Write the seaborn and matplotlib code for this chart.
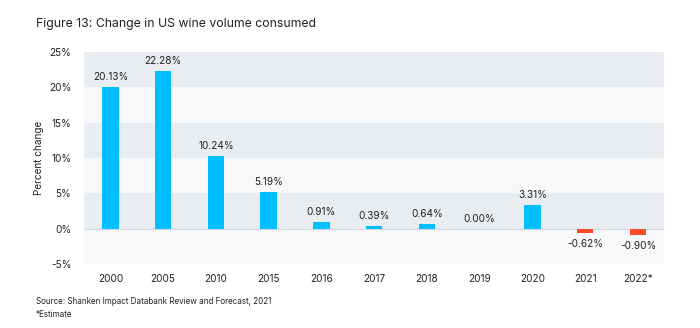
import matplotlib
matplotlib.use("Agg")
import matplotlib.pyplot as plt
import seaborn as sns
import pandas as pd
import numpy as np

years = ["2000", "2005", "2010", "2015", "2016", "2017", "2018", "2019", "2020", "2021", "2022*"]
changes = [20.13, 22.28, 10.24, 5.19, 0.91, 0.39, 0.64, 0.00, 3.31, -0.62, -0.90]
y_ticks = [-5, 0, 5, 10, 15, 20, 25]

BLUE = "#00BFFF"
RED = "#FF4B2B"
TEXT = "#222222"

sns.set_theme(style="white")
plt.rcParams["font.family"] = ["Inter", "DejaVu Sans"]

df = pd.DataFrame({"year": years, "change": changes})
df["sign"] = np.where(df["change"] < 0, "neg", "pos")

fig = plt.figure(figsize=(7, 3.28), dpi=100)
ax = fig.add_axes([0.12, 0.195, 0.829, 0.646])

# alternating horizontal bands
for i, (lo, hi) in enumerate(zip(y_ticks[:-1], y_ticks[1:])):
    color = "#F7F8FA" if i % 2 == 0 else "#E9ECF0"
    ax.axhspan(lo, hi, color=color, zorder=0, lw=0)
ax.axhline(0, color="#D5D9DF", lw=0.8, zorder=1)

sns.barplot(data=df, x="year", y="change", hue="sign",
            palette={"pos": BLUE, "neg": RED}, dodge=False,
            legend=False, width=0.31, ax=ax, zorder=2, saturation=1,
            linewidth=0, edgecolor="none")

for i, v in enumerate(changes):
    if v < 0:
        ax.text(i, v - 0.9, f"{v:.2f}%", ha="center", va="top",
                fontsize=7.2, color=TEXT)
    else:
        ax.text(i, v + 0.7, f"{v:.2f}%", ha="center", va="bottom",
                fontsize=7.2, color=TEXT)

ax.set_ylim(-5, 25)
ax.set_xlim(-0.5, len(years) - 0.5)
ax.set_yticks(y_ticks)
ax.set_yticklabels([f"{t}%" for t in y_ticks])
ax.tick_params(axis="both", length=0, labelsize=7.2, colors=TEXT)
ax.tick_params(axis="y", pad=9)
ax.tick_params(axis="x", pad=7)
ax.set_xlabel("")
ax.set_ylabel("Percent change", fontsize=7.2, color=TEXT, labelpad=4)
for s in ax.spines.values():
    s.set_visible(False)

fig.text(0.051, 0.928, "Figure 13: Change in US wine volume consumed",
         fontsize=8.8, color=TEXT, va="center", ha="left")
fig.text(0.051, 0.082, "Source: Shanken Impact Databank Review and Forecast, 2021",
         fontsize=5.8, color=TEXT, va="center", ha="left")
fig.text(0.051, 0.040, "*Estimate",
         fontsize=5.8, color=TEXT, va="center", ha="left")

fig.savefig("out.png", dpi=100, facecolor="white")
